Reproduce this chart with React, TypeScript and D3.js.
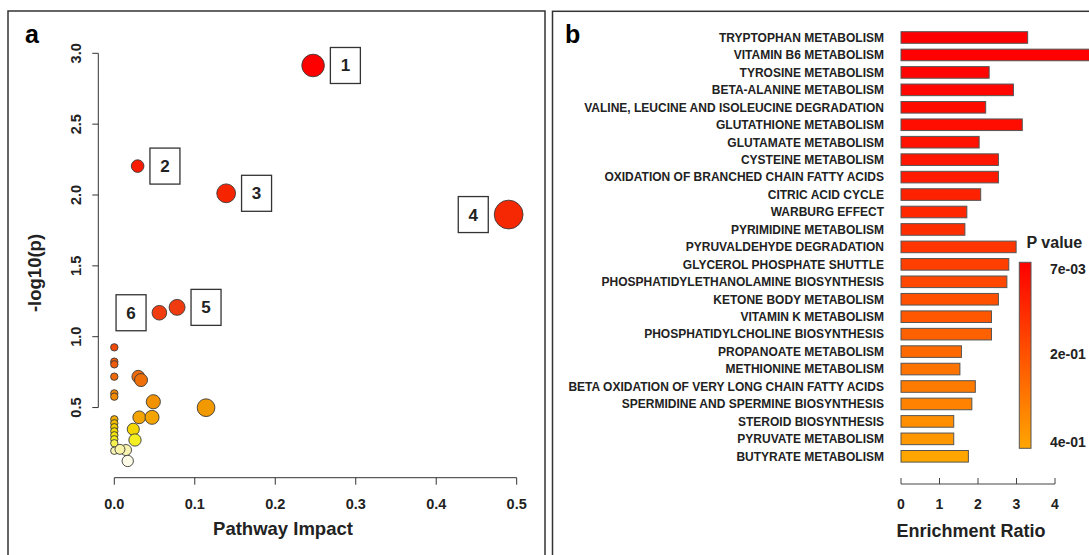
import React from 'react';
import * as d3 from 'd3';

const width = 1089;
const height = 555;

// panel a: pathway impact vs -log10(p)
const pathwayImpact = [
  0.247, 0.029, 0.139, 0.49, 0.078, 0.056,
  0, 0, 0, 0, 0, 0,
  0, 0, 0, 0, 0, 0, 0, 0,
  0.0298, 0.0332, 0.0485, 0.031, 0.0469, 0.114, 0.0236, 0.0257, 0.0145, 0.007, 0.0167
];
const logP = [
  2.914, 2.204, 2.012, 1.862, 1.207, 1.169,
  0.925, 0.824, 0.805, 0.718, 0.6, 0.577,
  0.417, 0.389, 0.361, 0.332, 0.304, 0.276, 0.248, 0.195,
  0.718, 0.694, 0.541, 0.431, 0.431, 0.499, 0.347, 0.271, 0.2, 0.205, 0.123
];
const pointLabels = ['1', '2', '3', '4', '5', '6'];
const xTicks = [0, 0.1, 0.2, 0.3, 0.4, 0.5];
const yTicks = [0.5, 1.0, 1.5, 2.0, 2.5, 3.0];

// panel b: enrichment
const pathways = [
  'TRYPTOPHAN METABOLISM',
  'VITAMIN B6 METABOLISM',
  'TYROSINE METABOLISM',
  'BETA-ALANINE METABOLISM',
  'VALINE, LEUCINE AND ISOLEUCINE DEGRADATION',
  'GLUTATHIONE METABOLISM',
  'GLUTAMATE METABOLISM',
  'CYSTEINE METABOLISM',
  'OXIDATION OF BRANCHED CHAIN FATTY ACIDS',
  'CITRIC ACID CYCLE',
  'WARBURG EFFECT',
  'PYRIMIDINE METABOLISM',
  'PYRUVALDEHYDE DEGRADATION',
  'GLYCEROL PHOSPHATE SHUTTLE',
  'PHOSPHATIDYLETHANOLAMINE BIOSYNTHESIS',
  'KETONE BODY METABOLISM',
  'VITAMIN K METABOLISM',
  'PHOSPHATIDYLCHOLINE BIOSYNTHESIS',
  'PROPANOATE METABOLISM',
  'METHIONINE METABOLISM',
  'BETA OXIDATION OF VERY LONG CHAIN FATTY ACIDS',
  'SPERMIDINE AND SPERMINE BIOSYNTHESIS',
  'STEROID BIOSYNTHESIS',
  'PYRUVATE METABOLISM',
  'BUTYRATE METABOLISM'
];
const enrichment = [
  3.29, 5.1, 2.29, 2.92, 2.2, 3.15, 2.03, 2.53, 2.53, 2.07, 1.71, 1.66, 2.99,
  2.8, 2.75, 2.53, 2.35, 2.35, 1.57, 1.53, 1.93, 1.84, 1.37, 1.37, 1.75
];
const pValues = [
  0.007, 0.01, 0.016, 0.022, 0.03, 0.038, 0.05, 0.06, 0.07, 0.085, 0.1, 0.115, 0.135,
  0.155, 0.175, 0.195, 0.215, 0.235, 0.26, 0.28, 0.3, 0.32, 0.345, 0.37, 0.4
];
const erTicks = [0, 1, 2, 3, 4];
const legendTicks = [0.007, 0.2, 0.4];
const legendLabels = ['7e-03', '2e-01', '4e-01'];

const font = 'Arial, "Liberation Sans", Helvetica, sans-serif';

const App = () => {
  const x = d3.scaleLinear().domain([0, 0.5]).range([114.3, 516.7]);
  const y = d3.scaleLinear().domain([1, 3]).range([336.7, 53.3]);
  const r = d3.scaleSqrt().domain([0, 0.5]).range([3.7, 14.5]);
  const heat = d3
    .scaleLinear<string>()
    .domain([0.12, 0.2, 0.28, 0.35, 0.43, 0.55, 0.72, 0.92, 1.2, 2.0, 2.92])
    .range(['#fdfbe8', '#f8f3b0', '#f4ee10', '#f2d400', '#f3a400', '#f29000', '#ef6a0a', '#f04a08', '#f03a10', '#f72400', '#ff0000']);

  const points = pathwayImpact.map((v, i) => ({ x: v, y: logP[i], label: pointLabels[i] }));

  const er = d3.scaleLinear().domain([0, 4]).range([901, 1055]);
  const rowY = d3.scalePoint().domain(pathways).range([37.5, 456.3]);
  const barH = 11.6;
  const pColor = d3.scaleLinear<string>().domain([0.007, 0.4]).range(['#ff0000', '#ffa500']);
  const legendY = d3.scaleLinear().domain([0.007, 0.4]).range([269.3, 441.7]);

  return (
    <svg width={width} height={height} style={{ position: 'absolute', left: 0, top: 0, fontFamily: font }}>
      <defs>
        <linearGradient id="pgrad" x1="0" y1="0" x2="0" y2="1">
          <stop offset="0%" stopColor={pColor(0.007)} />
          <stop offset="100%" stopColor={pColor(0.4)} />
        </linearGradient>
      </defs>
      <rect width={width} height={height} fill="#fff" />

      {/* panel a */}
      <rect x={8} y={11} width={537} height={560} fill="none" stroke="#333" strokeWidth={1.5} />
      <text x={25} y={43} fontSize={25} fontWeight="bold">a</text>

      <line x1={98.3} x2={98.3} y1={y(0.5)} y2={y(3)} stroke="#333" />
      {yTicks.map(t => (
        <g key={t}>
          <line x1={92.3} x2={98.3} y1={y(t)} y2={y(t)} stroke="#333" />
          <text transform={`translate(81,${y(t)}) rotate(-90)`} textAnchor="middle" fontSize={14.5} fontWeight="bold" fill="#222">
            {t.toFixed(1)}
          </text>
        </g>
      ))}
      <line x1={x(0)} x2={x(0.5)} y1={477.7} y2={477.7} stroke="#333" />
      {xTicks.map(t => (
        <g key={t}>
          <line x1={x(t)} x2={x(t)} y1={477.7} y2={484.7} stroke="#333" />
          <text x={x(t)} y={509} textAnchor="middle" fontSize={14.5} fontWeight="bold" fill="#222">
            {t.toFixed(1)}
          </text>
        </g>
      ))}
      <text x={283} y={534.5} textAnchor="middle" fontSize={18.5} fontWeight="bold" fill="#222">Pathway Impact</text>
      <text transform="translate(41,273) rotate(-90)" textAnchor="middle" fontSize={18.5} fontWeight="bold" fill="#222">-log10(p)</text>

      {points.map((p, i) => (
        <circle key={i} cx={x(p.x)} cy={y(p.y)} r={r(p.x)} fill={heat(p.y)} stroke="#3a3a3a" strokeWidth={0.9} />
      ))}
      {points.filter(p => p.label).map(p => {
        const left = p.label === '4' || p.label === '6';
        const gap = 6;
        const bw = 30;
        const bh = 36;
        const cx = x(p.x);
        const bx = left ? cx - r(p.x) - gap - bw : cx + r(p.x) + gap;
        const cy = y(p.y);
        return (
          <g key={p.label}>
            <rect x={bx} y={cy - bh / 2} width={bw} height={bh} fill="#fff" stroke="#333" strokeWidth={1.3} />
            <text x={bx + bw / 2} y={cy + 6} textAnchor="middle" fontSize={17} fontWeight="bold" fill="#222">
              {p.label}
            </text>
          </g>
        );
      })}

      {/* panel b */}
      <rect x={552.5} y={11.3} width={560} height={560} fill="none" stroke="#333" strokeWidth={1.5} />
      <text x={565} y={43} fontSize={25} fontWeight="bold">b</text>

      {pathways.map((name, i) => (
        <g key={name}>
          <text x={884} y={(rowY(name) as number) + 4.3} textAnchor="end" fontSize={12} fontWeight="bold" fill="#222">
            {name}
          </text>
          <rect
            x={er(0)}
            y={(rowY(name) as number) - barH / 2}
            width={er(enrichment[i]) - er(0)}
            height={barH}
            fill={pColor(pValues[i])}
            stroke="#555"
            strokeWidth={1}
          />
        </g>
      ))}

      <line x1={er(0)} x2={er(4)} y1={484} y2={484} stroke="#444" />
      {erTicks.map(t => (
        <g key={t}>
          <line x1={er(t)} x2={er(t)} y1={478} y2={484} stroke="#444" />
          <text x={er(t)} y={509} textAnchor="middle" fontSize={14} fontWeight="bold" fill="#222">{t}</text>
        </g>
      ))}
      <text x={971} y={537} textAnchor="middle" fontSize={18} fontWeight="bold" fill="#222">Enrichment Ratio</text>

      <text x={1026.5} y={248} fontSize={16} fontWeight="bold" fill="#222">P value</text>
      <rect x={1019.3} y={262.3} width={11.7} height={186} fill="url(#pgrad)" stroke="#555" strokeWidth={1} />
      {legendTicks.map((t, i) => (
        <text key={t} x={1050} y={legendY(t) + 5} fontSize={14} fontWeight="bold" fill="#222">
          {legendLabels[i]}
        </text>
      ))}
    </svg>
  );
};

export default App;
